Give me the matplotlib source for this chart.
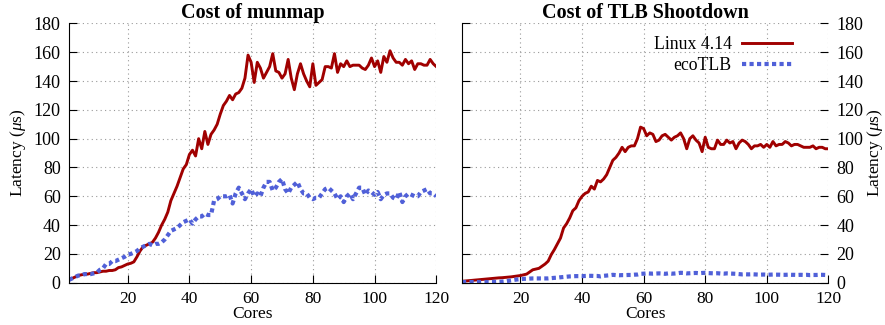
import numpy as np
import matplotlib
matplotlib.use('Agg')
import matplotlib.pyplot as plt

plt.rcParams['font.family'] = ['Liberation Serif', 'DejaVu Serif']
plt.rcParams['mathtext.fontset'] = 'custom'
plt.rcParams['mathtext.it'] = 'Liberation Serif:italic'
plt.rcParams['mathtext.rm'] = 'Liberation Serif'

cores = np.arange(1, 121)

munmap_linux = [
    2, 3, 4, 5, 5.5, 6, 6, 6.5, 7, 7,
    7.5, 8, 8, 8.5, 8.5, 9, 10.5, 11, 12, 13,
    13.5, 14.5, 18, 22, 25, 26, 27, 28, 31, 35,
    40, 44, 49, 57, 62, 67, 73, 79, 82, 89,
    92, 88, 100, 93, 105, 96, 103, 106, 110, 117,
    123, 126, 130, 127, 131, 132, 135, 142, 158, 153,
    139, 153, 149, 142, 146, 150, 159, 147, 146, 142,
    145, 155, 142, 134, 145, 152, 145, 140, 136, 152,
    137, 139, 141, 150, 150, 149, 159, 146, 152, 150,
    154, 150, 151, 151, 151, 149, 148, 151, 156, 150,
    154, 146, 157, 153, 161, 156, 153, 153, 151, 155,
    152, 154, 148, 152, 152, 151, 151, 155, 152, 150,
]
munmap_eco = [
    2, 3, 4, 5, 5, 6, 6, 6, 6.5, 7,
    9, 10, 13, 13, 15, 15, 16, 17, 18, 19.5,
    20, 21, 22, 24, 25, 26, 27, 26, 27, 27,
    28, 30, 33, 36, 37, 38, 40, 42, 43, 44,
    41, 44, 46, 46, 48, 47, 47, 57, 58, 60,
    60, 60, 61, 55, 62, 66, 62, 58, 62, 65,
    60, 62, 60, 66, 70, 70, 64, 66, 70, 72,
    65, 62, 66, 68, 70, 65, 62, 62, 59, 58,
    59, 59, 62, 65, 66, 64, 62, 58, 60, 56,
    60, 62, 58, 62, 66, 66, 61, 64, 63, 61,
    63, 58, 61, 62, 62, 59, 58, 63, 56, 60,
    62, 61, 60, 60, 63, 64, 65, 62, 62, 60,
]
shoot_linux = [
    1, 1.2, 1.4, 1.6, 1.8, 2, 2.2, 2.4, 2.6, 2.8,
    3, 3.2, 3.4, 3.5, 3.7, 3.9, 4.1, 4.4, 4.7, 5,
    5.5, 6, 7.5, 9, 9.5, 10, 11.5, 13, 15, 19.5,
    23, 27, 31, 38, 41, 45, 50, 52, 57, 60,
    62, 63, 67, 65, 71, 70, 72, 75, 80, 85,
    87, 90, 94, 91, 94, 95, 95, 100, 108, 107,
    102, 104, 103, 98, 99, 102, 103, 101, 99, 101,
    102, 104, 100, 93, 100, 102, 99, 97, 91, 101,
    94, 93, 93, 99, 96, 96, 99, 97, 98, 93,
    97, 99, 98, 96, 93, 95, 95, 96, 94, 96,
    94, 98, 95, 96, 96, 98, 97, 95, 96, 96,
    95, 94, 94, 94, 95, 93, 94, 94, 93, 93,
]
shoot_eco = [
    0.5, 0.5, 0.5, 0.5, 0.5, 0.5, 0.5, 0.5, 0.5, 0.5,
    0.6, 0.6, 0.7, 0.8, 1, 1.3, 1.6, 2, 2.3, 2.5,
    2.7, 2.8, 2.9, 3, 3, 3, 3, 3, 3, 3.2,
    3.4, 3.5, 3.8, 4, 4.2, 4.4, 4.5, 4.6, 4.6, 4.6,
    4.7, 4.8, 4.8, 4.7, 4.7, 4.4, 4.8, 5, 5.2, 5.5,
    5.3, 5.2, 5.3, 5.3, 5.4, 5.4, 5.6, 5.7, 6.2, 6.3,
    6.5, 6.4, 6.3, 6.4, 6.5, 6.4, 6.2, 6.5, 6.3, 6.4,
    6.6, 6.9, 6.8, 6.5, 6.6, 6.7, 6.8, 6.6, 6.8, 6.9,
    6.7, 6.6, 6.5, 6.6, 6.4, 6.3, 6.5, 6.4, 6.3, 6.2,
    6.0, 5.8, 5.9, 5.8, 5.9, 5.8, 5.7, 5.6, 5.7, 5.6,
    5.6, 5.7, 5.6, 5.6, 5.5, 5.5, 5.6, 5.5, 5.5, 5.4,
    5.5, 5.4, 5.5, 5.3, 5.4, 5.4, 5.5, 5.5, 5.4, 5.4,
]

red = '#A00000'
blue = '#5060D8'
fs = 13

fig = plt.figure(figsize=(8.85, 3.25), dpi=100)
ax1 = fig.add_axes([0.078, 0.13, 0.415, 0.798])
ax2 = fig.add_axes([0.522, 0.13, 0.414, 0.798])

for ax, lin, eco, title in [(ax1, munmap_linux, munmap_eco, 'Cost of munmap'),
                             (ax2, shoot_linux, shoot_eco, 'Cost of TLB Shootdown')]:
    ax.plot(cores, lin, color=red, lw=2.1, label='Linux 4.14')
    ax.plot(cores, eco, color=blue, lw=3.0, linestyle=(0, (1, 0.8)),
            dash_capstyle='butt', label='ecoTLB')
    ax.set_xlim(1, 120)
    ax.set_ylim(0, 180)
    ax.set_xticks([20, 40, 60, 80, 100, 120])
    ax.set_yticks(np.arange(0, 181, 20))
    ax.grid(True, linestyle=(0, (1, 3)), color='#999999', lw=0.8)
    ax.set_title(title, fontsize=14.5, fontweight='bold', pad=2)
    ax.set_xlabel('Cores', fontsize=12.5, labelpad=-0.5)
    ax.tick_params(direction='in', length=6, labelsize=fs, pad=6)
    ax.tick_params(axis='x', pad=6, labelsize=12.5)
    ax.spines['top'].set_visible(False)
    ax.spines['right'].set_visible(False)

ax1.set_ylabel(r'Latency ($\mu$s)', fontsize=12.5, labelpad=4)

ax2.yaxis.tick_right()
ax2.tick_params(axis='y', left=True, right=True, labelleft=False, labelright=True)
ax2.yaxis.set_label_position('right')
ax2.set_ylabel(r'Latency ($\mu$s)', fontsize=12.5, labelpad=1)
ax2.legend(loc='upper right', frameon=False, markerfirst=False, fontsize=12.8,
           handlelength=2.8, bbox_to_anchor=(0.935, 1.0), labelspacing=0.25,
           borderaxespad=0.3, handletextpad=0.6)

fig.savefig('out.png', dpi=100)
